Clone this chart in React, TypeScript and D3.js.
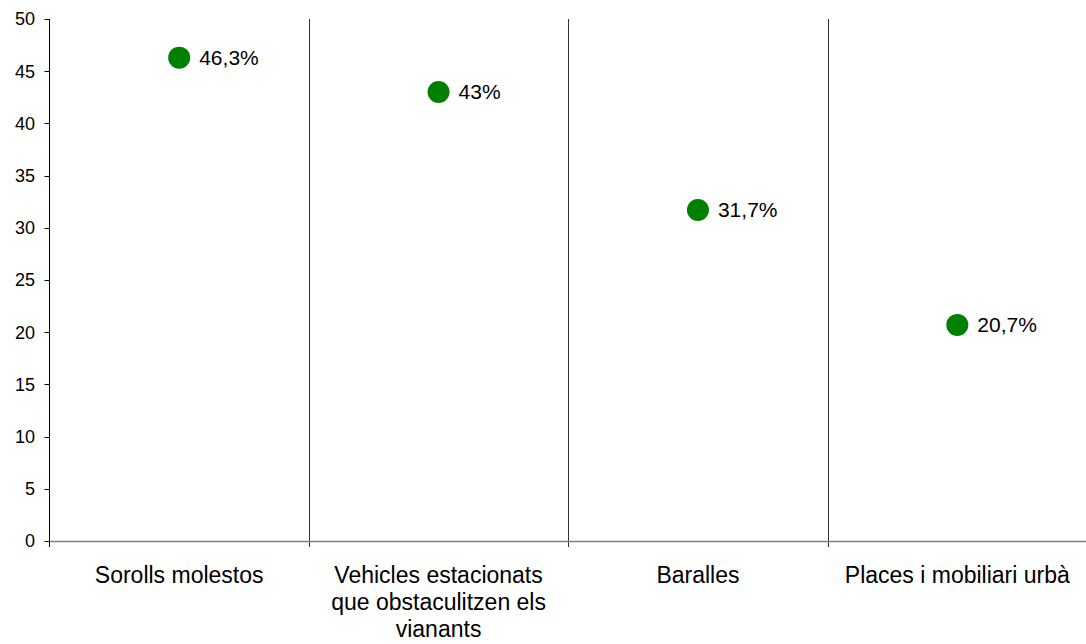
import React from "react";
import * as d3 from "d3";

const categories = [
  ["Sorolls molestos"],
  ["Vehicles estacionats", "que obstaculitzen els", "vianants"],
  ["Baralles"],
  ["Places i mobiliari urbà"],
];
const values = [46.3, 43, 31.7, 20.7];
const valueLabels = ["46,3%", "43%", "31,7%", "20,7%"];
const yTicks = [0, 5, 10, 15, 20, 25, 30, 35, 40, 45, 50];

export default function App() {
  const W = 1086, H = 644;
  const left = 49.5, right = 1087, top = 19, bottom = 541;
  const x = d3.scaleBand<number>().domain(d3.range(categories.length)).range([left, right]);
  const y = d3.scaleLinear().domain([0, 50]).range([bottom, top]);
  const font = "Arial, 'Liberation Sans', sans-serif";
  const bounds = d3.range(categories.length + 1).map((i) => left + i * x.step());
  return (
    <svg width={W} height={H} style={{ position: "absolute", left: 0, top: 0 }} fontFamily={font}>
      <rect width={W} height={H} fill="#fff" />
      {bounds.slice(1, -1).map((b, i) => (
        <line key={i} x1={Math.round(b) + 0.5} x2={Math.round(b) + 0.5} y1={top} y2={bottom + 6} stroke="#333" strokeWidth={1} />
      ))}
      <line x1={left} x2={W} y1={bottom + 0.5} y2={bottom + 0.5} stroke="#808080" strokeWidth={1.5} />
      <line x1={left} x2={left} y1={top} y2={bottom + 6} stroke="#000" strokeWidth={1} />
      {yTicks.map((t) => (
        <g key={t}>
          <line x1={left - 5} x2={left} y1={Math.round(y(t)) + 0.5} y2={Math.round(y(t)) + 0.5} stroke="#000" />
          <text x={35} y={y(t)} dy="0.35em" textAnchor="end" fontSize={18} fill="#000">{t}</text>
        </g>
      ))}
      {categories.map((lines, i) => (
        <text key={i} x={x(i)! + x.bandwidth() / 2} y={583} textAnchor="middle" fontSize={23} fill="#000">
          {lines.map((l, j) => (
            <tspan key={j} x={x(i)! + x.bandwidth() / 2} dy={j === 0 ? 0 : 27}>{l}</tspan>
          ))}
        </text>
      ))}
      {values.map((v, i) => {
        const cx = x(i)! + x.bandwidth() / 2;
        return (
          <g key={i}>
            <circle cx={cx} cy={y(v)} r={11} fill="#008000" />
            <text x={cx + 20} y={y(v)} dy="0.35em" fontSize={21} fill="#000">{valueLabels[i]}</text>
          </g>
        );
      })}
    </svg>
  );
}
